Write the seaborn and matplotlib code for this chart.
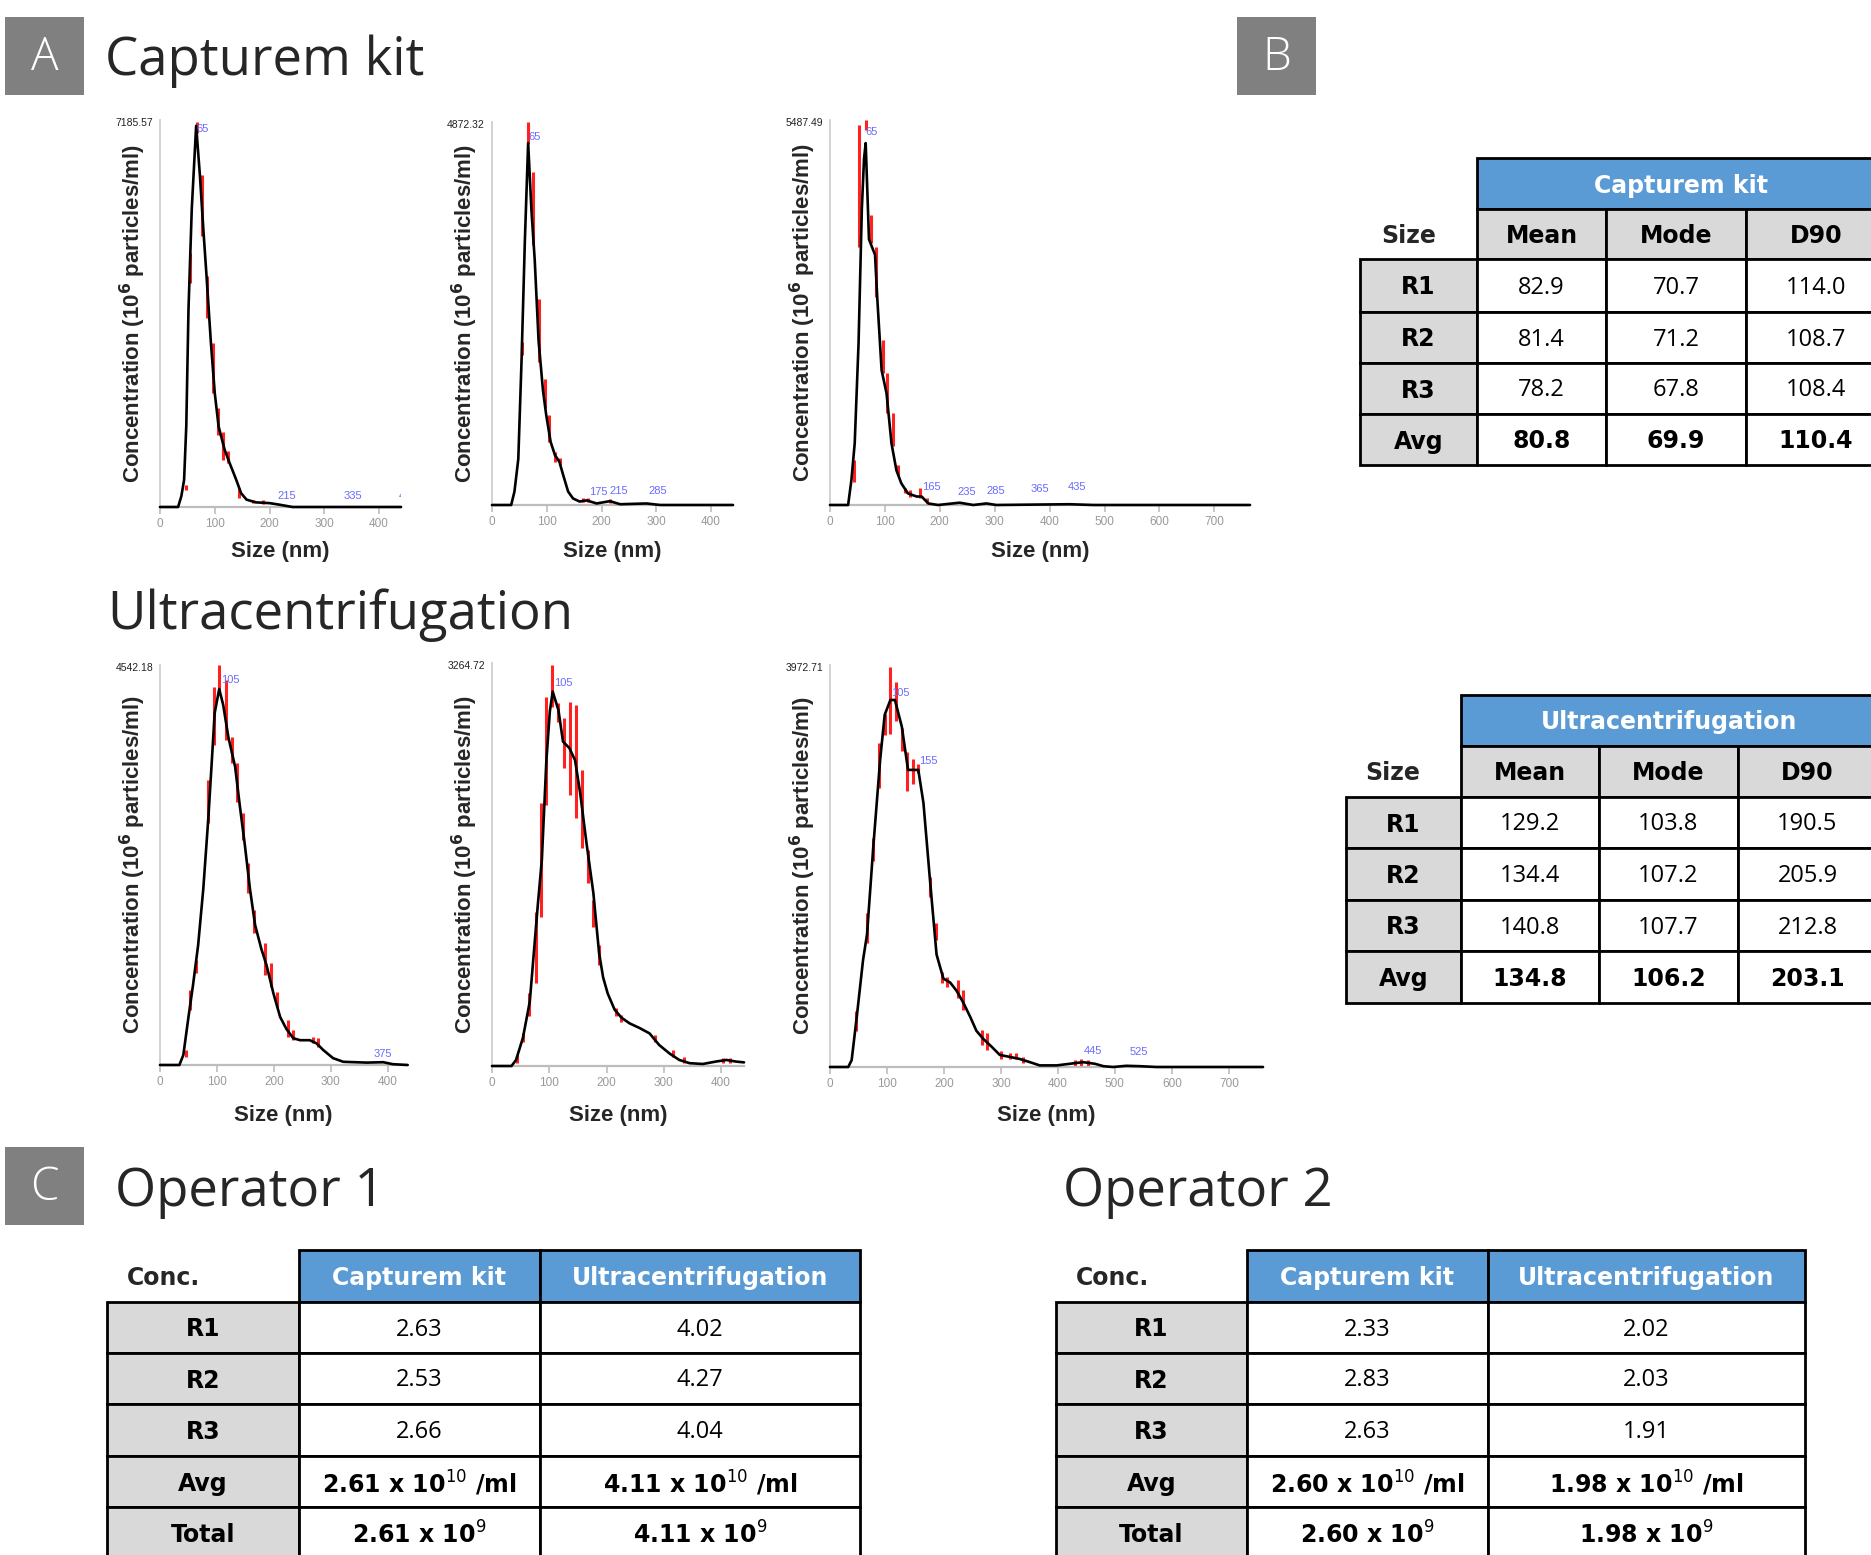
import numpy as np
import matplotlib
matplotlib.use("Agg")
import matplotlib.pyplot as plt
import seaborn as sns
from matplotlib.patches import Rectangle
from matplotlib.transforms import offset_copy

sns.set_theme(style="white")
plt.rcParams["font.family"] = ["Liberation Sans", "DejaVu Sans"]
plt.rcParams["mathtext.fontset"] = "dejavusans"

W, H = 1871, 1555

# ------------------------------------------------------------------
# NTA size distributions, concentration relative to the axis maximum
# ------------------------------------------------------------------
# Capturem kit R1
ymax_a1 = 7185.57
size_a1 = [0, 33, 39, 44, 48, 52, 58, 66, 73, 79, 85, 93, 100, 107, 118, 127, 139, 148, 158, 175, 200, 218, 242, 440]
rel_a1 = [0, 0, .028, .07, .21, .51, .77, .985, .854, .72, .596, .423, .294, .208, .148, .114, .071, .036, .019, .012, .01, .006, 0, 0]
errx_a1 = [47, 55, 67, 76, 86, 97, 106, 115, 124, 145, 170, 188]
errlo_a1 = [.045, .578, .966, .699, .488, .294, .187, .122, .114, .023, .010, .008]
errhi_a1 = [.058, .656, .996, .858, .596, .423, .256, .195, .144, .049, .019, .017]
peakx_a1 = [67, 215, 336, 436]
peaky_a1 = [.978, .028, .028, .028]
peaktxt_a1 = ["65", "215", "335", "435"]

# Capturem kit R2
ymax_a2 = 4872.32
size_a2 = [0, 35, 41, 48, 54, 60, 66, 72, 78, 85, 93, 99, 107, 115, 123, 130, 139, 148, 160, 173, 191, 215, 234, 282, 307, 440]
rel_a2 = [0, 0, .035, .12, .38, .69, .945, .77, .64, .43, .30, .235, .165, .13, .113, .078, .035, .017, .009, .012, .004, .01, .002, .004, 0, 0]
errx_a2 = [54, 66, 75, 85, 96, 104, 115, 124, 166, 176, 215]
errlo_a2 = [.391, .943, .678, .374, .252, .165, .113, .104, .009, .009, .005]
errhi_a2 = [.426, 1.0, .870, .539, .330, .235, .139, .122, .017, .019, .016]
peakx_a2 = [66, 177, 215, 285]
peaky_a2 = [.961, .035, .037, .037]
peaktxt_a2 = ["65", "175", "215", "285"]

# Capturem kit R3
ymax_a3 = 5487.49
size_a3 = [0, 33, 39, 45, 52, 58, 62, 65, 71, 82, 86, 94, 103, 112, 121, 130, 142, 158, 167, 179, 197, 236, 261, 285, 303, 436, 480, 765]
rel_a3 = [0, 0, .065, .16, .42, .77, .90, .94, .69, .65, .54, .35, .29, .16, .09, .056, .03, .022, .022, .004, 0, .006, 0, .004, 0, .002, 0, 0]
errx_a3 = [44, 53, 65, 74, 84, 96, 104, 115, 124, 136, 145, 164, 176]
errlo_a3 = [.061, .671, .974, .680, .541, .342, .238, .152, .078, .030, .022, .017, .004]
errhi_a3 = [.117, .987, 1.0, .753, .671, .429, .342, .238, .104, .043, .039, .043, .017]
peakx_a3 = [65, 167, 233, 285, 365, 433]
peaky_a3 = [.97, .048, .035, .037, .041, .048]
peaktxt_a3 = ["65", "165", "235", "285", "365", "435"]

# Ultracentrifugation R1
ymax_b1 = 4542.18
size_b1 = [0, 34, 41, 50, 58, 67, 76, 85, 91, 96, 104, 111, 120, 132, 140, 149, 158, 167, 178, 187, 199, 211, 222, 234, 246, 263, 275, 287, 304, 322, 363, 392, 409, 435]
rel_b1 = [0, 0, .025, .12, .20, .30, .44, .62, .76, .88, .94, .90, .82, .745, .65, .55, .44, .35, .29, .25, .18, .12, .09, .067, .062, .062, .054, .037, .017, .008, .006, .007, .002, 0]
errx_b1 = [46, 53, 64, 85, 95, 104, 116, 126, 135, 145, 155, 165, 185, 195, 205, 225, 234, 269, 278]
errlo_b1 = [.021, .138, .229, .604, .80, .929, .813, .754, .658, .563, .429, .329, .225, .196, .146, .071, .063, .054, .046]
errhi_b1 = [.038, .188, .263, .713, .946, 1.0, .963, .821, .754, .629, .504, .388, .304, .254, .183, .113, .088, .071, .067]
peakx_b1 = [108, 375]
peaky_b1 = [.9625, .0275]
peaktxt_b1 = ["105", "375"]

# Ultracentrifugation R2
ymax_b2 = 3264.72
size_b2 = [0, 34, 42, 54, 66, 72, 80, 87, 95, 101, 106, 116, 124, 135, 145, 154, 165, 177, 187, 194, 202, 214, 226, 240, 258, 275, 292, 310, 327, 345, 368, 391, 409, 426, 440]
rel_b2 = [0, 0, .015, .07, .16, .263, .40, .511, .759, .88, .929, .883, .805, .789, .759, .677, .553, .429, .28, .22, .18, .14, .12, .106, .094, .081, .052, .031, .015, .007, .005, .011, .015, .011, .009]
errx_b2 = [44, 54, 65, 76, 85, 95, 105, 116, 126, 136, 146, 157, 167, 177, 187, 217, 226, 284, 316, 336, 403, 415]
errlo_b2 = [.007, .060, .123, .205, .370, .648, .891, .853, .739, .672, .615, .541, .454, .345, .25, .123, .110, .060, .023, .007, .007, .007]
errhi_b2 = [.027, .081, .180, .383, .653, .916, .995, .901, .864, .903, .896, .734, .536, .412, .30, .143, .127, .077, .040, .023, .019, .019]
peakx_b2 = [108]
peaky_b2 = [.95]
peaktxt_b2 = ["105"]

# Ultracentrifugation R3
ymax_b3 = 3972.71
size_b3 = [0, 32, 38, 47, 58, 65, 76, 88, 96, 106, 114, 126, 137, 155, 164, 175, 187, 199, 211, 222, 234, 246, 257, 269, 284, 298, 316, 333, 351, 368, 398, 421, 444, 465, 480, 497, 520, 544, 573, 760]
rel_b3 = [0, 0, .017, .125, .266, .33, .548, .764, .876, .913, .913, .847, .739, .739, .657, .473, .28, .22, .21, .19, .16, .125, .09, .07, .05, .03, .025, .02, .012, .004, .004, .008, .012, .008, .002, 0, .003, .002, 0, 0]
errx_b3 = [46, 65, 76, 86, 96, 105, 116, 126, 136, 145, 155, 175, 186, 196, 205, 225, 234, 266, 275, 301, 316, 327, 339, 430, 441, 453]
errlo_b3 = [.09, .308, .512, .694, .826, .828, .861, .786, .687, .704, .731, .423, .316, .208, .20, .172, .142, .055, .042, .02, .02, .02, .01, .002, .002, .002]
errhi_b3 = [.14, .383, .570, .806, .878, .995, .958, .843, .783, .766, .754, .473, .358, .237, .225, .216, .192, .092, .085, .04, .035, .035, .025, .017, .019, .017]
peakx_b3 = [107, 157, 446, 525]
peaky_b3 = [.931, .761, .041, .037]
peaktxt_b3 = ["105", "155", "445", "525"]

# ------------------------------------------------------------------
# Table values
# ------------------------------------------------------------------
size_cols = ["Mean", "Mode", "D90"]
size_rows = ["R1", "R2", "R3", "Avg"]
cap_mean = [82.9, 81.4, 78.2, 80.8]
cap_mode = [70.7, 71.2, 67.8, 69.9]
cap_d90 = [114.0, 108.7, 108.4, 110.4]
uc_mean = [129.2, 134.4, 140.8, 134.8]
uc_mode = [103.8, 107.2, 107.7, 106.2]
uc_d90 = [190.5, 205.9, 212.8, 203.1]

conc_cols = ["Capturem kit", "Ultracentrifugation"]
conc_rows = ["R1", "R2", "R3", "Avg", "Total"]
op1_cap = [2.63, 2.53, 2.66, 2.61]
op1_uc = [4.02, 4.27, 4.04, 4.11]
op2_cap = [2.33, 2.83, 2.63, 2.60]
op2_uc = [2.02, 2.03, 1.91, 1.98]

# ------------------------------------------------------------------
BLUE = "#5b9bd5"
GRAY = "#d9d9d9"
PANEL = "#808080"
TITLE_FONT = ["Open Sans", "DejaVu Sans"]
REG_FONT = ["Open Sans", "DejaVu Sans"]
BOLD_FONT = ["DejaVu Sans"]
TSIZE = 17

fig = plt.figure(figsize=(W / 100, H / 100), dpi=100)


def px_axes(l, t, r, b):
    return fig.add_axes([l / W, 1 - b / H, (r - l) / W, (b - t) / H])


def nta_plot(box, xmax, ymax, size, rel, errx, errlo, errhi, peakx, peaky, peaktxt, xlab_dy):
    ax = px_axes(*box)
    conc = np.array(rel) * ymax
    ax.vlines(errx, np.array(errlo) * ymax, np.array(errhi) * ymax,
              colors="#ff2020", linewidth=2.2, zorder=2)
    sns.lineplot(x=np.array(size), y=conc, ax=ax, color="black", linewidth=1.9, zorder=3)
    for ln in ax.lines:
        ln.set_clip_on(False)
    for x, y, t in zip(peakx, peaky, peaktxt):
        ax.text(x, y * ymax, t, ha="left", va="center", fontsize=8,
                color="#6a6aff", clip_on=True, zorder=4)
    ax.set_xlim(0, xmax)
    ax.set_ylim(0, ymax)
    ax.set_xticks(np.arange(0, xmax, 100))
    ax.set_yticks([])
    ax.set_xlabel("")
    ax.set_ylabel("")
    for s in ["top", "right"]:
        ax.spines[s].set_visible(False)
    ax.spines["left"].set_color("#cfcfcf")
    ax.spines["left"].set_linewidth(1.3)
    ax.spines["bottom"].set_color("#bdbdbd")
    ax.spines["bottom"].set_linewidth(1.6)
    ax.tick_params(axis="x", bottom=True, length=5, width=1.2, color="#bdbdbd",
                   pad=3, labelsize=8.5, labelcolor="#999999")
    ax.text(0, 1, f"{ymax:.2f}", transform=offset_copy(ax.transAxes, fig, x=-7, y=-3, units="dots"),
            ha="right", va="center", fontsize=7.5, color="#222222")
    ax.text(0, 0.5, r"Concentration (10$^{\mathbf{6}}$ particles/ml)",
            transform=offset_copy(ax.transAxes, fig, x=-27, y=0, units="dots"),
            rotation=90, ha="center", va="center", fontsize=16, fontweight="bold")
    ax.text(0.5, 0, "Size (nm)", transform=offset_copy(ax.transAxes, fig, x=0, y=-xlab_dy, units="dots"),
            ha="center", va="center", fontsize=16, fontweight="bold")
    return ax


nta_plot((160, 120, 401, 507), 440, ymax_a1, size_a1, rel_a1, errx_a1, errlo_a1, errhi_a1,
         peakx_a1, peaky_a1, peaktxt_a1, 45)
nta_plot((492, 122, 733, 505), 440, ymax_a2, size_a2, rel_a2, errx_a2, errlo_a2, errhi_a2,
         peakx_a2, peaky_a2, peaktxt_a2, 47)
nta_plot((830, 120, 1250, 505), 765, ymax_a3, size_a3, rel_a3, errx_a3, errlo_a3, errhi_a3,
         peakx_a3, peaky_a3, peaktxt_a3, 47)
nta_plot((160, 665, 406, 1065), 432, ymax_b1, size_b1, rel_b1, errx_b1, errlo_b1, errhi_b1,
         peakx_b1, peaky_b1, peaktxt_b1, 50)
nta_plot((492, 663, 744, 1066), 440, ymax_b2, size_b2, rel_b2, errx_b2, errlo_b2, errhi_b2,
         peakx_b2, peaky_b2, peaktxt_b2, 49)
nta_plot((830, 665, 1263, 1067), 760, ymax_b3, size_b3, rel_b3, errx_b3, errlo_b3, errhi_b3,
         peakx_b3, peaky_b3, peaktxt_b3, 48)

# overlay in pixel coordinates for titles and tables
ov = fig.add_axes([0, 0, 1, 1])
ov.set_xlim(0, W)
ov.set_ylim(H, 0)
ov.axis("off")


def panel(x, y, letter):
    ov.add_patch(Rectangle((x, y), 79, 78, facecolor=PANEL, edgecolor="none"))
    ov.text(x + 39.5, y + 41, letter, color="white", fontsize=33, ha="center", va="center",
            family=TITLE_FONT, fontweight="light")


def cell(x0, y0, x1, y1, text="", fill="white", bold=False, color="black", edge=True):
    ov.add_patch(Rectangle((x0, y0), x1 - x0, y1 - y0, facecolor=fill,
                           edgecolor="black" if edge else "none", linewidth=2, zorder=2))
    if text:
        ov.text((x0 + x1) / 2, (y0 + y1) / 2 + 2, text, ha="center", va="center",
                fontsize=TSIZE, color=color, fontweight="bold" if bold else "normal",
                family=BOLD_FONT if bold else REG_FONT, zorder=3)


def size_table(title, xlab, cols, rows, size_x, means, modes, d90s):
    cell(cols[0], rows[0], cols[-1], rows[1], title, fill=BLUE, bold=True, color="white")
    ov.text(size_x, (rows[1] + rows[2]) / 2 + 2, "Size", ha="center", va="center",
            fontsize=TSIZE, fontweight="bold", family=BOLD_FONT)
    for j, name in enumerate(size_cols):
        cell(cols[j], rows[1], cols[j + 1], rows[2], name, fill=GRAY, bold=True)
    for i, r in enumerate(size_rows):
        y0, y1 = rows[i + 2], rows[i + 3]
        cell(xlab, y0, cols[0], y1, r, fill=GRAY, bold=True)
        for j, vals in enumerate([means, modes, d90s]):
            cell(cols[j], y0, cols[j + 1], y1, f"{vals[i]:.1f}", bold=(r == "Avg"))


def conc_table(xlab, cols, rows, conc_x, cap, uc):
    ov.text(conc_x, (rows[0] + rows[1]) / 2 + 2, "Conc.", ha="left", va="center",
            fontsize=TSIZE, fontweight="bold", family=BOLD_FONT)
    for j, name in enumerate(conc_cols):
        cell(cols[j], rows[0], cols[j + 1], rows[1], name, fill=BLUE, bold=True, color="white")
    for i, r in enumerate(conc_rows):
        y0, y1 = rows[i + 1], rows[i + 2]
        cell(xlab, y0, cols[0], y1, r, fill=GRAY, bold=True)
        for j, vals in enumerate([cap, uc]):
            if r == "Avg":
                txt = f"{vals[3]:.2f} x 10$^{{10}}$ /ml"
            elif r == "Total":
                txt = f"{vals[3]:.2f} x 10$^{{9}}$"
            else:
                txt = f"{vals[i]:.2f}"
            cell(cols[j], y0, cols[j + 1], y1, txt, bold=(r in ("Avg", "Total")))


panel(5, 17, "A")
panel(1237, 17, "B")
panel(5, 1147, "C")

for x, y, t in [(105, 75, "Capturem kit"), (107, 629, "Ultracentrifugation"),
                (115, 1206, "Operator 1"), (1063, 1206, "Operator 2")]:
    ov.text(x, y, t, fontsize=38, family=TITLE_FONT, va="baseline")

size_table("Capturem kit", 1360, [1477, 1606, 1746, 1886],
           [158, 209, 259, 312, 363, 414, 465], 1409, cap_mean, cap_mode, cap_d90)
size_table("Ultracentrifugation", 1346, [1461, 1599, 1738, 1877],
           [695, 746, 797, 848, 900, 951, 1003], 1393, uc_mean, uc_mode, uc_d90)

conc_rows_y = [1250, 1302, 1353, 1404, 1456, 1507, 1558]
conc_table(107, [299, 540, 860], conc_rows_y, 127, op1_cap, op1_uc)
conc_table(1056, [1247, 1488, 1805], conc_rows_y, 1076, op2_cap, op2_uc)

fig.savefig("out.png", dpi=100)
